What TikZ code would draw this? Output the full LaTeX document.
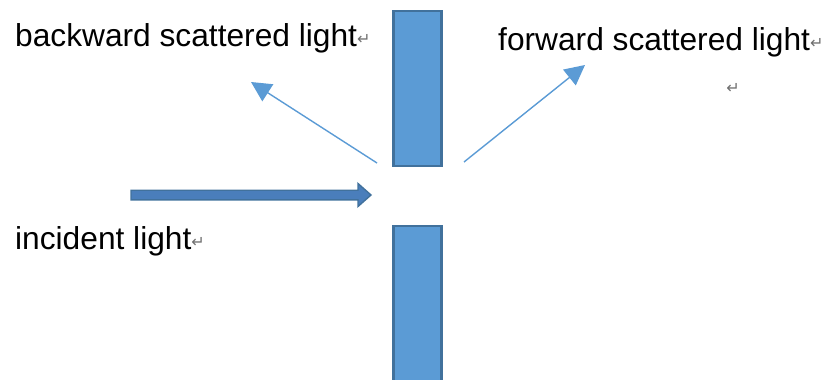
\documentclass[tikz,border=0pt]{standalone}
\usepackage{fontspec}
\setmainfont{Liberation Sans}
\newfontfamily\retfont{DejaVu Sans}
\usetikzlibrary{arrows.meta,calc}
\definecolor{barfill}{HTML}{5B9BD5}
\definecolor{barline}{HTML}{41719C}
\definecolor{incfill}{HTML}{4A7EBB}
\definecolor{rayblue}{HTML}{5B9BD5}
\definecolor{markgray}{HTML}{6F6F6F}
\newcommand{\retmark}{{\retfont\fontsize{16}{16}\selectfont\color{markgray}\raisebox{2pt}{↵}}}
\tikzset{
  barbox/.style={draw=barline, fill=barfill, line width=2.8pt, inner sep=0pt, minimum width=48pt},
  label/.style={anchor=base west, inner sep=0pt, font=\fontsize{31.7}{38}\selectfont, text=black},
  ray/.style={draw=rayblue, line width=1.4pt, -{Triangle[length=20pt,width=20pt]}},
  blockarrow/.style={draw=barline, fill=incfill, line width=1.4pt, line join=miter},
}
\begin{document}
\begin{tikzpicture}[x=1pt,y=-1pt]
\useasboundingbox (0,0) rectangle (822,380);
% slit plates
\node[barbox, minimum height=155pt] (top) at (417.5,88.5) {};
\node[barbox, minimum height=160pt] (bottom) at (417.5,306) {};
% labels
\node[label] (back) at (15,46) {backward scattered light\retmark};
\node[label] (fwd) at (498,50) {forward scattered light\retmark};
\node[label] (inc) at (15,249) {incident light\retmark};
\node[anchor=center, inner sep=0pt] (pmark) at (733,89) {\retmark};
% incident block arrow
\coordinate (inc0) at (131,195);
\coordinate (inc1) at (371,195);
\draw[blockarrow] ($(inc0)+(0,-4.8)$) -- ($(inc1)+(-13,-4.8)$) -- ($(inc1)+(-13,-11.5)$) -- (inc1)
  -- ($(inc1)+(-13,11.5)$) -- ($(inc1)+(-13,4.8)$) -- ($(inc0)+(0,4.8)$) -- cycle;
% scattered rays
\coordinate (bs0) at (377,163);
\coordinate (bs1) at (251,82);
\coordinate (fs0) at (464,162);
\coordinate (fs1) at (585,65);
\draw[ray] (bs0) -- (bs1);
\draw[ray] (fs0) -- (fs1);
\end{tikzpicture}
\end{document}
